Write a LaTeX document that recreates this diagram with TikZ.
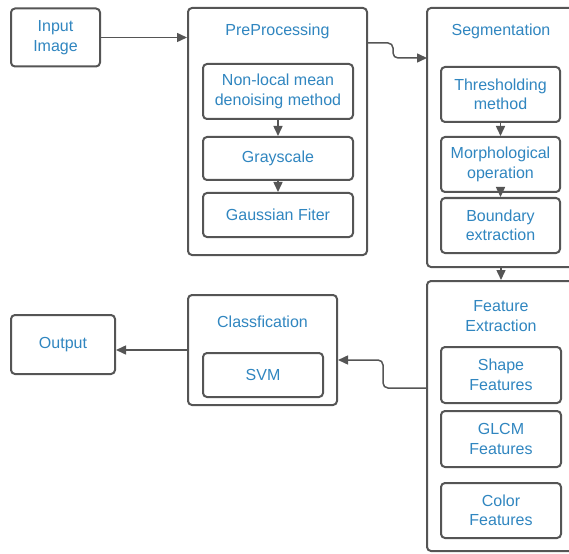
\documentclass[tikz,border=0pt]{standalone}
\usepackage{fontspec}
\setmainfont{Liberation Sans}
\usetikzlibrary{arrows.meta}
\definecolor{boxline}{RGB}{85,85,85}
\definecolor{boxtext}{RGB}{48,134,192}

\begin{document}
\begin{tikzpicture}[x=1pt,y=-1pt,
    box/.style={draw=boxline,line width=2pt,rounded corners=4pt,fill=white,
      text=boxtext,align=center,inner sep=0pt,
      font=\fontsize{16}{19.5}\selectfont},
    title/.style={text=boxtext,align=center,font=\fontsize{16}{19.5}\selectfont},
    flow/.style={draw=boxline,line width=1.5pt,-{Triangle[length=10pt,width=9pt]}}]
            \useasboundingbox (0,0) rectangle (569,553);
            \clip (0,0) rectangle (569,553);
            % first row
            \node [box,minimum width=89pt,minimum height=58pt] (input) at (55.5,37.5) {Input\\Image};
            \node [box,minimum width=179pt,minimum height=247pt] (pre) at (277.5,131.5) {};
            \node [title] (pretitle) at (277.5,31) {PreProcessing};
            \node [box,minimum width=150pt,minimum height=55pt] (nlm) at (278,91.5) {Non-local mean\\denoising method};
            \node [box,minimum width=150pt,minimum height=43pt] (gray) at (278,158.5) {Grayscale};
            \node [box,minimum width=150pt,minimum height=44pt] (gauss) at (278,215) {Gaussian Fiter};
            \node [box,minimum width=148pt,minimum height=259pt] (seg) at (501,137.5) {};
            \node [title] (segtitle) at (501,31) {Segmentation};
            \node [box,minimum width=119pt,minimum height=55pt] (thr) at (500.5,94.5) {Thresholding\\method};
            \node [box,minimum width=119pt,minimum height=55pt] (morph) at (500.5,164.5) {Morphological\\operation};
            \node [box,minimum width=119pt,minimum height=55pt] (bound) at (500.5,225.5) {Boundary\\extraction};
            % second row
            \node [box,minimum width=148pt,minimum height=270pt] (feat) at (501,416) {};
            \node [title] (feattitle) at (501,316) {Feature\\Extraction};
            \node [box,minimum width=120pt,minimum height=56pt] (shape) at (501,375) {Shape\\Features};
            \node [box,minimum width=120pt,minimum height=56pt] (glcm) at (501,439) {GLCM\\Features};
            \node [box,minimum width=120pt,minimum height=55pt] (color) at (501,510.5) {Color\\Features};
            \node [box,minimum width=149pt,minimum height=110pt] (cls) at (262.5,350) {};
            \node [title] (clstitle) at (262.5,322) {Classfication};
            \node [box,minimum width=120pt,minimum height=44pt] (svm) at (263,375) {SVM};
            \node [box,minimum width=104pt,minimum height=59pt] (output) at (63,344.5) {Output};
            % connectors
            \coordinate (preout) at (367,43);
            \coordinate (segin) at (427,58);
            \coordinate (featout) at (427,388);
            \coordinate (clsin) at (338,360);
            \draw [flow] (input.east) -- (input.east -| pre.west);
            \draw [flow,rounded corners=5pt] (preout) -- (393,43) -- (393,58) -- (segin);
            \draw [flow] (nlm.south) -- (gray.north);
            \draw [flow] (gray.south) -- (gauss.north);
            \draw [flow] (thr.south) -- (morph.north);
            \draw [flow] (morph.south) -- (bound.north);
            \draw [flow] (seg.south) -- (feat.north);
            \draw [flow,rounded corners=5pt] (featout) -- (383,388) -- (383,360) -- (clsin);
            \draw [flow] (cls.west) -- (cls.west -| output.east);
\end{tikzpicture}
\end{document}
